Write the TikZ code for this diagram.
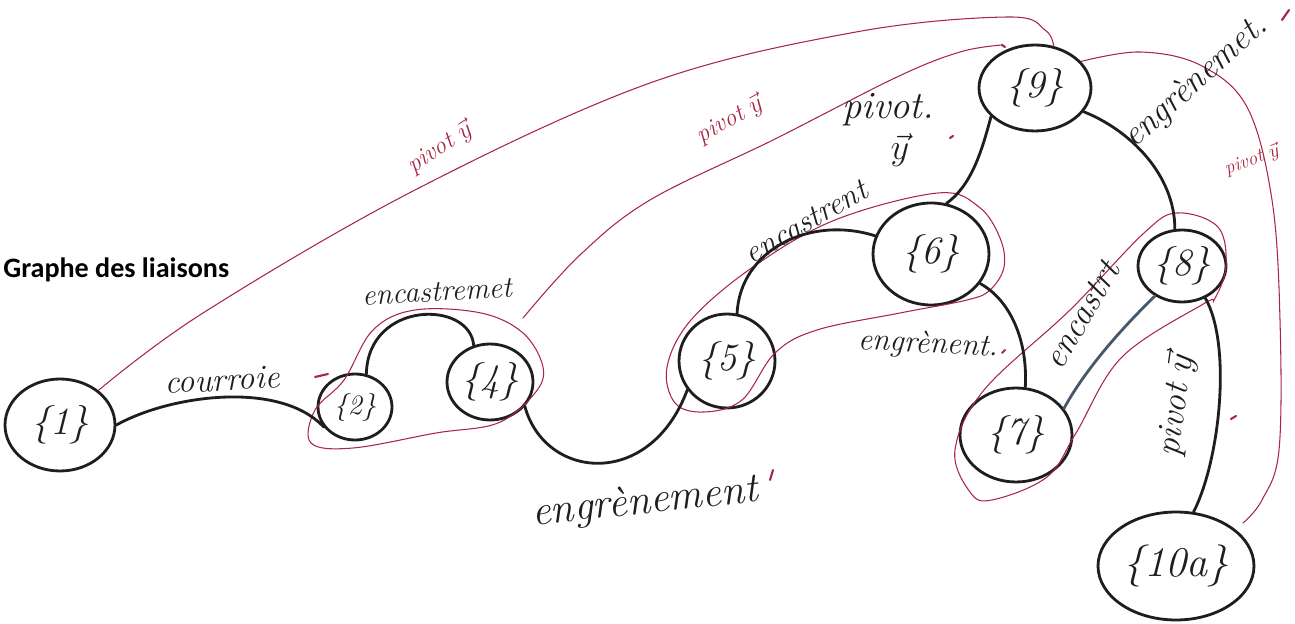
\documentclass[tikz,border=0pt]{standalone}
\usepackage{fontspec}
\newfontfamily\titlefont{Carlito}
\usetikzlibrary{shapes.geometric}
\definecolor{pen}{RGB}{30,30,30}
\definecolor{redpen}{RGB}{168,38,68}
\definecolor{bluepen}{RGB}{70,88,105}
\begin{document}
\begin{tikzpicture}[x=0.02cm,y=-0.02cm,
  part/.style={ellipse, draw=pen, line width=1.6pt, inner sep=0pt, text=pen,
    font=\itshape\fontsize{22}{22}\selectfont},
  link/.style={draw=pen, line width=1.6pt, line cap=round},
  redlink/.style={draw=redpen, line width=0.6pt, line cap=round},
  redmark/.style={draw=redpen, line width=1.2pt, line cap=round},
  lab/.style={text=pen, inner sep=0pt, font=\itshape\fontsize{#1}{#1}\selectfont},
  redlab/.style={text=redpen, inner sep=0pt, font=\itshape\fontsize{#1}{#1}\selectfont}]
\useasboundingbox (0,0) rectangle (1295,624);

% title
\node[anchor=west, inner sep=0pt, font=\titlefont\bfseries\fontsize{16}{16}\selectfont] (title) at (3,270) {Graphe des liaisons};

% parts
\node[part, minimum width=2.2cm, minimum height=1.84cm] (n1) at (60,425) {\{1\}};
\node[part, minimum width=1.48cm, minimum height=1.32cm, font=\itshape\fontsize{16}{16}\selectfont] (n2) at (355,407) {\{2\}};
\node[part, minimum width=1.72cm, minimum height=1.52cm] (n4) at (490,382) {\{4\}};
\node[part, minimum width=1.92cm, minimum height=1.88cm] (n5) at (727,361) {\{5\}};
\node[part, minimum width=2.32cm, minimum height=2.04cm] (n6) at (931,254) {\{6\}};
\node[part, minimum width=2.24cm, minimum height=1.88cm] (n7) at (1016,435) {\{7\}};
\node[part, minimum width=1.76cm, minimum height=1.44cm] (n8) at (1182,266) {\{8\}};
\node[part, minimum width=2.24cm, minimum height=1.72cm] (n9) at (1035,88) {\{9\}};
\node[part, minimum width=3.12cm, minimum height=2.16cm, font=\itshape\fontsize{24}{24}\selectfont] (n10) at (1176,566) {\{10a\}};

% group outlines (red)
\draw[redlink] plot[smooth cycle, tension=0.6] coordinates {(311,443) (315,410) (344,380) (373,330) (415,310) (481,313) (523,333) (543,367) (535,393) (498,423) (436,433) (353,448)};
\draw[redlink] plot[smooth cycle, tension=0.6] coordinates {(667,367) (675,403) (704,412) (742,400) (775,353) (817,330) (900,313) (967,300) (990,290) (1004,267) (1000,238) (979,207) (938,193) (835,220) (753,267) (691,320)};
\draw[redlink] plot[smooth cycle, tension=0.6] coordinates {(1205,303) (1122,357) (1076,433) (1047,477) (992,500) (970,492) (955,450) (984,390) (1070,310) (1144,233) (1177,213) (1218,227) (1226,267) (1214,300)};

% red pivot links
\coordinate (g24) at (523,318);
\coordinate (e2) at (1002,45);
\draw[redlink] plot[smooth, tension=0.6] coordinates {(n1.42) (203,313) (415,190) (650,83) (856,32) (1008,17) (1045,30) (n9.66)};
\draw[redlink] plot[smooth, tension=0.6] coordinates {(g24) (580,255) (650,200) (773,140) (897,77) (960,52) (e2)};
\draw[redmark] (e2) -- ++(3,2);
\draw[redlink] plot[smooth, tension=0.6] coordinates {(n9.30) (1140,52) (1200,65) (1247,107) (1272,200) (1280,320) (1279,450) (1262,500) (1243,523)};

% black links
\draw[link] (n1.east) .. controls (170,395) and (280,380) .. (n2.213);
\draw[link] (n2.71) .. controls (368,300) and (470,300) .. (n4.114);
\draw[link] (n4.-35) .. controls (545,480) and (650,490) .. (n5.216);
\draw[link] (n5.78) .. controls (740,250) and (810,215) .. (n6.162);
\draw[link] (n6.-31) .. controls (1010,300) and (1028,340) .. (n7.79);
\draw[link] (n6.73) .. controls (972,185) and (982,150) .. (n9.213);
\draw[link] (n9.-26) .. controls (1130,130) and (1175,175) .. (n8.101);
\draw[link, draw=bluepen] (n8.228) .. controls (1120,330) and (1085,370) .. (n7.29);
\draw[link] (n8.-54) .. controls (1232,345) and (1220,460) .. (n10.72);

% labels
\node[lab=19, rotate=3] (l12) at (222,380) {courroie};
\node[lab=17, rotate=3] (l24) at (437,292) {encastremet};
\node[lab=24, rotate=6] (l45) at (645,503) {engrènement};
\node[lab=18, rotate=30] (l56) at (806,222) {encastrent};
\node[lab=18, rotate=-3] (l67) at (928,345) {engrènent.};
\node[lab=22] (l69) at (888,110) {pivot.};
\node[lab=20] (l69b) at (900,150) {$\vec{y}$};
\node[lab=20, rotate=42] (l98) at (1196,82) {engrènemet.};
\node[lab=20, rotate=60] (l87) at (1082,315) {encastrt};
\node[lab=20, rotate=82] (l810) at (1176,405) {pivot $\vec{y}$};

\node[redlab=14, rotate=33] (r1) at (440,148) {pivot $\vec{y}$};
\node[redlab=14, rotate=30] (r2) at (730,120) {pivot $\vec{y}$};
\node[redlab=11, rotate=20] (r3) at (1252,160) {pivot $\vec{y}$};

% small red marks
\draw[redmark] (315,377) -- (328,374);
\draw[redmark] (770,480) -- (773,470);
\draw[redmark] (1002,353) -- (1005,350);
\draw[redmark] (950,138) -- (953,136);
\draw[redmark] (1282,20) -- (1289,10);
\draw[redmark] (1231,419) -- (1236,416);
\end{tikzpicture}
\end{document}
